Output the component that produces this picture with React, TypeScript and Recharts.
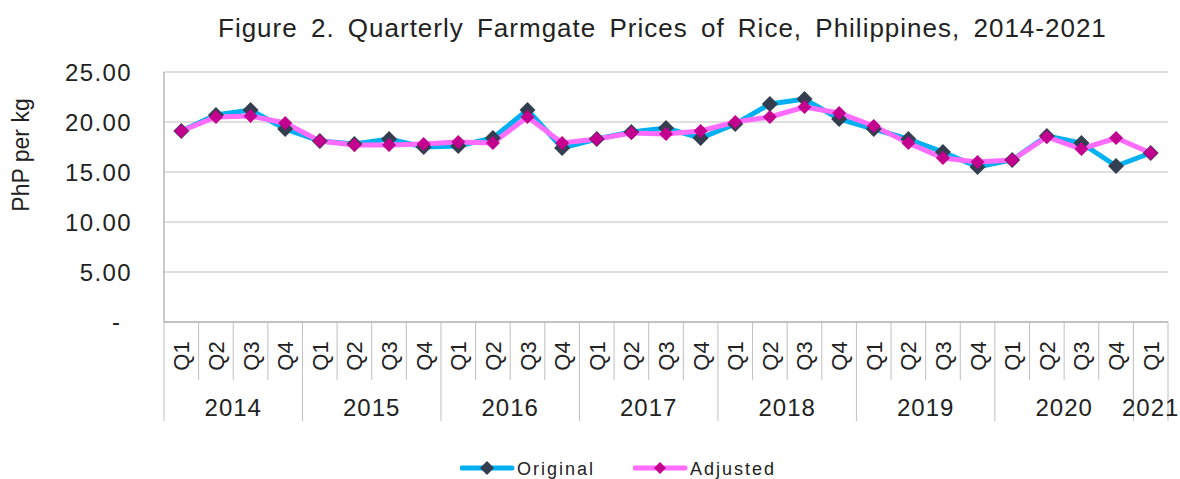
import React from 'react';
import { LineChart, Line, XAxis, YAxis, CartesianGrid, Legend } from 'recharts';

const quarterLabels = [
  'Q1', 'Q2', 'Q3', 'Q4', 'Q1', 'Q2', 'Q3', 'Q4', 'Q1', 'Q2', 'Q3', 'Q4',
  'Q1', 'Q2', 'Q3', 'Q4', 'Q1', 'Q2', 'Q3', 'Q4', 'Q1', 'Q2', 'Q3', 'Q4',
  'Q1', 'Q2', 'Q3', 'Q4', 'Q1',
];
const yearLabels = [
  '2014', '2014', '2014', '2014', '2015', '2015', '2015', '2015',
  '2016', '2016', '2016', '2016', '2017', '2017', '2017', '2017',
  '2018', '2018', '2018', '2018', '2019', '2019', '2019', '2019',
  '2020', '2020', '2020', '2020', '2021',
];
const originalPrices = [
  19.1, 20.7, 21.2, 19.3, 18.1, 17.8, 18.3, 17.5, 17.6, 18.4, 21.2, 17.4,
  18.3, 19.0, 19.4, 18.4, 19.8, 21.8, 22.3, 20.3, 19.3, 18.3, 17.0, 15.5,
  16.2, 18.6, 17.9, 15.6, 16.9,
];
const adjustedPrices = [
  19.1, 20.5, 20.6, 19.9, 18.1, 17.7, 17.7, 17.8, 18.0, 17.9, 20.5, 17.9,
  18.3, 18.9, 18.8, 19.1, 20.0, 20.5, 21.5, 20.9, 19.6, 17.9, 16.4, 16.0,
  16.2, 18.5, 17.3, 18.4, 16.9,
];
const yTicks = [0, 5, 10, 15, 20, 25];

const data = quarterLabels.map((q, i) => ({
  key: `${yearLabels[i]} ${q}`,
  q,
  year: yearLabels[i],
  original: originalPrices[i],
  adjusted: adjustedPrices[i],
}));

const W = 1180;
const H = 479;
const Y_AXIS_W = 164;
const M_RIGHT = 12;
const N = data.length;
const BW = (W - Y_AXIS_W - M_RIGHT) / N;
const FONT = '"Liberation Sans", Arial, sans-serif';
const TEXT = '#222222';
const GRID = '#bfbfbf';
const AXIS = '#a6a6a6';

const C_ORIG_LINE = '#00B0F0';
const C_ORIG_DOT = '#333F50';
const C_ADJ_LINE = '#FF6CFF';
const C_ADJ_DOT = '#C4008F';

const makeDot = (r: number, fill: string) => (props: any) => {
  const { cx, cy, index } = props;
  if (cx == null || cy == null) return <g key={`e-${index}`} />;
  return (
    <polygon
      key={`d-${index}`}
      points={`${cx},${cy - r} ${cx + r},${cy} ${cx},${cy + r} ${cx - r},${cy}`}
      fill={fill}
    />
  );
};

const YTick = (props: any) => {
  const { x, y, payload } = props;
  const v = payload.value as number;
  if (v === 0) {
    return (
      <text x={x - 44} y={y + 8} textAnchor="end" fontSize={24} fill={TEXT} fontFamily={FONT}>
        -
      </text>
    );
  }
  return (
    <text
      x={x - 32}
      y={y + 8.5}
      textAnchor="end"
      fontSize={24}
      fill={TEXT}
      fontFamily={FONT}
      letterSpacing={1.4}
    >
      {v.toFixed(2)}
    </text>
  );
};

const QuarterTick = (props: any) => {
  const { x, y, index } = props;
  const q = quarterLabels[index];
  const yr = yearLabels[index];
  const left = x - BW / 2;
  const isFirst = index === 0 || yearLabels[index - 1] !== yr;
  const count = yearLabels.filter((v) => v === yr).length;
  return (
    <g>
      <line x1={left} x2={left} y1={y} y2={isFirst ? y + 99 : y + 58} stroke={GRID} strokeWidth={1} />
      {index === N - 1 && (
        <line x1={x + BW / 2} x2={x + BW / 2} y1={y} y2={y + 99} stroke={GRID} strokeWidth={1} />
      )}
      <text
        transform={`translate(${x + 8}, ${y + 34}) rotate(-90)`}
        textAnchor="middle"
        fontSize={22}
        fill={TEXT}
        fontFamily={FONT}
      >
        {q}
      </text>
      {isFirst && (
        <text
          x={left + (count * BW) / 2}
          y={y + 94}
          textAnchor="middle"
          fontSize={24}
          fill={TEXT}
          fontFamily={FONT}
          letterSpacing={1}
        >
          {yr}
        </text>
      )}
    </g>
  );
};

const YLabel = (props: any) => {
  const vb = props.viewBox || {};
  const cy = (vb.y ?? 72) + (vb.height ?? 250) / 2 - 42;
  return (
    <text
      transform={`translate(29, ${cy}) rotate(-90)`}
      textAnchor="middle"
      fontSize={23}
      fill={TEXT}
      fontFamily={FONT}
    >
      PhP per kg
    </text>
  );
};

const LegendItem = ({ label, line, dot, r, w }: any) => (
  <svg width={w} height={22} style={{ display: 'block' }}>
    <line x1={2} x2={52} y1={11} y2={11} stroke={line} strokeWidth={5} strokeLinecap="round" />
    <polygon points={`27,${11 - r} ${27 + r},11 27,${11 + r} ${27 - r},11`} fill={dot} />
    <text x={57} y={17.5} fontSize={18} fill={TEXT} fontFamily={FONT} letterSpacing={2}>
      {label}
    </text>
  </svg>
);

const LegendContent = () => (
  <div
    style={{
      height: 40,
      width: W,
      display: 'flex',
      alignItems: 'center',
      paddingTop: 18,
      paddingLeft: 460,
      boxSizing: 'border-box',
    }}
  >
    <LegendItem label="Original" line={C_ORIG_LINE} dot={C_ORIG_DOT} r={7} w={173} />
    <LegendItem label="Adjusted" line={C_ADJ_LINE} dot={C_ADJ_DOT} r={6} w={160} />
  </div>
);

export default function App() {
  return (
    <div style={{ position: 'absolute', left: 0, top: 0, width: W, height: H, background: '#fff' }}>
      <svg width={W} height={50} style={{ position: 'absolute', left: 0, top: 0 }}>
        <text
          x={218}
          y={37}
          fontSize={26}
          fill={TEXT}
          fontFamily={FONT}
          letterSpacing={1}
          wordSpacing={5}
        >
          Figure 2. Quarterly Farmgate Prices of Rice, Philippines, 2014-2021
        </text>
      </svg>
      <div style={{ position: 'absolute', left: 0, top: 0 }}>
        <LineChart
          width={W}
          height={H}
          data={data}
          margin={{ top: 72, right: M_RIGHT, left: 0, bottom: 17 }}
        >
          <CartesianGrid horizontal vertical={false} stroke={GRID} strokeWidth={1.2} />
          <XAxis
            dataKey="key"
            interval={0}
            height={100}
            tickLine={false}
            tickSize={0}
            tickMargin={0}
            axisLine={{ stroke: AXIS, strokeWidth: 1.2 }}
            padding={{ left: BW / 2, right: BW / 2 }}
            tick={<QuarterTick />}
          />
          <YAxis
            domain={[0, 25]}
            ticks={yTicks}
            width={Y_AXIS_W}
            tickLine={false}
            tickSize={0}
            tickMargin={0}
            axisLine={{ stroke: AXIS, strokeWidth: 1.2 }}
            tick={<YTick />}
            label={<YLabel />}
          />
          <YAxis
            yAxisId="right"
            orientation="right"
            domain={[0, 25]}
            width={0}
            tick={false}
            tickLine={false}
            axisLine={{ stroke: AXIS, strokeWidth: 1.2 }}
          />
          <Legend
            verticalAlign="bottom"
            content={<LegendContent />}
            wrapperStyle={{ left: 0, bottom: 0, width: W }}
          />
          <Line
            type="linear"
            dataKey="original"
            name="Original"
            stroke={C_ORIG_LINE}
            strokeWidth={5}
            dot={makeDot(8, C_ORIG_DOT)}
            activeDot={false}
            isAnimationActive={false}
          />
          <Line
            type="linear"
            dataKey="adjusted"
            name="Adjusted"
            stroke={C_ADJ_LINE}
            strokeWidth={5}
            dot={makeDot(7, C_ADJ_DOT)}
            activeDot={false}
            isAnimationActive={false}
          />
        </LineChart>
      </div>
    </div>
  );
}
